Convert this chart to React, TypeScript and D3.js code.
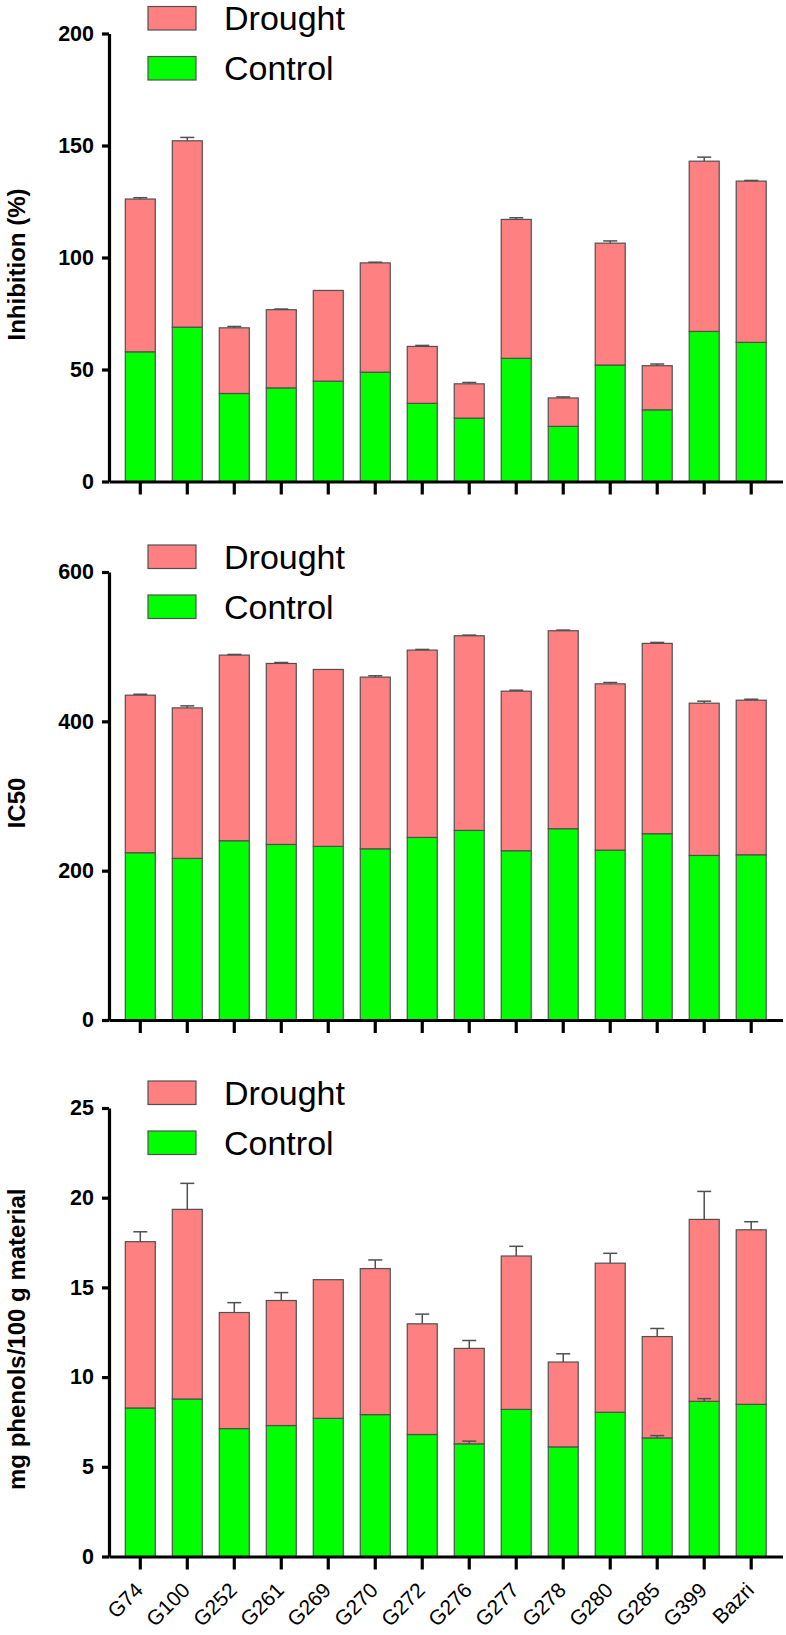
import React, { useRef, useEffect } from 'react';
import * as d3 from 'd3';

// genotypes on the x axis
const GENOTYPES = ['G74', 'G100', 'G252', 'G261', 'G269', 'G270', 'G272', 'G276', 'G277', 'G278', 'G280', 'G285', 'G399', 'Bazri'];

// Inhibition (%) — control segment, drought segment (stacked on top), error of the stack
const INHIBITION_CONTROL = [57.9, 68.9, 39.3, 41.8, 44.8, 48.8, 34.9, 28.3, 55.0, 24.6, 52.0, 32.0, 67.0, 62.1];
const INHIBITION_DROUGHT = [68.2, 83.2, 29.3, 34.9, 40.5, 48.8, 25.4, 15.3, 62.0, 12.7, 54.4, 19.7, 76.0, 72.0];
const INHIBITION_ERR = [0.6, 1.5, 0.6, 0.3, 0, 0.3, 0.45, 0.6, 0.75, 0.45, 1.0, 0.75, 1.8, 0.3];
const INHIBITION_TICKS = [0, 50, 100, 150, 200];

// IC50
const IC50_CONTROL = [224.0, 216.4, 240.1, 235.1, 232.5, 229.3, 244.5, 253.9, 226.7, 256.2, 227.5, 249.5, 220.4, 221.3];
const IC50_DROUGHT = [211.0, 201.6, 248.6, 242.4, 237.0, 229.9, 250.9, 260.7, 213.7, 265.1, 222.7, 254.9, 203.9, 207.0];
const IC50_ERR = [1.3, 2.7, 0.9, 1.3, 0, 1.8, 0.9, 0.9, 1.3, 0.9, 1.8, 1.3, 2.7, 1.3];
const IC50_TICKS = [0, 200, 400, 600];

// mg phenols / 100 g material
const PHENOL_CONTROL = [8.28, 8.78, 7.13, 7.3, 7.7, 7.91, 6.8, 6.28, 8.2, 6.11, 8.04, 6.61, 8.65, 8.48];
const PHENOL_DROUGHT = [9.27, 10.57, 6.47, 6.97, 7.73, 8.14, 6.17, 5.32, 8.55, 4.73, 8.31, 5.65, 10.14, 9.73];
const PHENOL_ERR = [0.55, 1.45, 0.55, 0.44, 0, 0.48, 0.54, 0.44, 0.54, 0.46, 0.55, 0.45, 1.56, 0.45];
const PHENOL_CONTROL_ERR = [0, 0, 0, 0, 0, 0, 0, 0.15, 0, 0, 0, 0.13, 0.15, 0];
const PHENOL_TICKS = [0, 5, 10, 15, 20, 25];

const SERIES = ['Drought', 'Control'];
const COLORS: Record<string, string> = { Drought: '#ff8080', Control: '#00ff00' };

const FONT = "'Liberation Sans', Arial, Helvetica, sans-serif";

interface Panel {
  top: number;
  bottom: number;
  ticks: number[];
  label: string;
  control: number[];
  drought: number[];
  err: number[];
  controlErr?: number[];
  showLabels: boolean;
}

const App: React.FC = () => {
  const svgRef = useRef<SVGSVGElement | null>(null);

  useEffect(() => {
    const width = 786;
    const height = 1635;
    const axisX = 109;
    const axisEnd = 782.5;

    const svg = d3.select(svgRef.current).attr('width', width).attr('height', height);
    svg.selectAll('*').remove();

    const panels: Panel[] = [
      { top: 33.5, bottom: 481.5, ticks: INHIBITION_TICKS, label: 'Inhibition (%)', control: INHIBITION_CONTROL, drought: INHIBITION_DROUGHT, err: INHIBITION_ERR, showLabels: false },
      { top: 572, bottom: 1020, ticks: IC50_TICKS, label: 'IC50', control: IC50_CONTROL, drought: IC50_DROUGHT, err: IC50_ERR, showLabels: false },
      { top: 1108, bottom: 1556.5, ticks: PHENOL_TICKS, label: 'mg phenols/100 g material', control: PHENOL_CONTROL, drought: PHENOL_DROUGHT, err: PHENOL_ERR, controlErr: PHENOL_CONTROL_ERR, showLabels: true },
    ];

    const x = d3.scaleBand<string>().domain(GENOTYPES).range([axisX, axisEnd]).paddingInner(0.362).paddingOuter(0.347);

    panels.forEach((p) => {
      const g = svg.append('g');
      const y = d3.scaleLinear().domain([0, d3.max(p.ticks) || 0]).range([p.bottom, p.top]);

      const rows = GENOTYPES.map((name, i) => ({ name, Control: p.control[i], Drought: p.drought[i] }));
      const stacked = d3.stack<any>().keys(['Control', 'Drought'])(rows);

      // bars
      stacked.forEach((layer) => {
        g.append('g')
          .selectAll('rect')
          .data(layer)
          .enter()
          .append('rect')
          .attr('x', (d) => x(d.data.name)!)
          .attr('width', x.bandwidth())
          .attr('y', (d) => y(d[1]))
          .attr('height', (d) => y(d[0]) - y(d[1]))
          .attr('fill', COLORS[layer.key])
          .attr('stroke', '#505050')
          .attr('stroke-width', 1.2);
      });

      // error bars (upward only)
      const errs: { cx: number; v: number; e: number }[] = [];
      GENOTYPES.forEach((name, i) => {
        const cx = x(name)! + x.bandwidth() / 2;
        if (p.err[i] > 0) errs.push({ cx, v: p.control[i] + p.drought[i], e: p.err[i] });
        if (p.controlErr && p.controlErr[i] > 0) errs.push({ cx, v: p.control[i], e: p.controlErr[i] });
      });
      const eg = g.append('g').attr('stroke', '#505050').attr('stroke-width', 1.5);
      errs.forEach((d) => {
        eg.append('line').attr('x1', d.cx).attr('x2', d.cx).attr('y1', y(d.v)).attr('y2', y(d.v + d.e));
        eg.append('line').attr('x1', d.cx - 7).attr('x2', d.cx + 7).attr('y1', y(d.v + d.e)).attr('y2', y(d.v + d.e));
      });

      // y axis
      const ya = g
        .append('g')
        .attr('transform', `translate(${axisX},0)`)
        .call(d3.axisLeft(y).tickValues(p.ticks).tickSize(7).tickSizeOuter(0).tickPadding(8));
      ya.select('.domain').attr('stroke', '#000').attr('stroke-width', 3.2);
      ya.selectAll('.tick line').attr('stroke', '#000').attr('stroke-width', 3.2);
      ya.selectAll('.tick text')
        .attr('fill', '#000')
        .style('font-family', FONT)
        .style('font-size', '21.5px')
        .style('font-weight', 'bold');

      // x axis
      const xa = g
        .append('g')
        .attr('transform', `translate(0,${p.bottom})`)
        .call(d3.axisBottom(x).tickSize(13).tickSizeOuter(0));
      xa.select('.domain').attr('stroke', '#000').attr('stroke-width', 3.2);
      xa.selectAll('.tick line').attr('stroke', '#000').attr('stroke-width', 3.2);
      if (p.showLabels) {
        xa.selectAll('.tick text')
          .attr('x', 0)
          .attr('y', 0)
          .attr('dy', 0)
          .attr('transform', 'translate(4,35) rotate(-45)')
          .attr('text-anchor', 'end')
          .attr('fill', '#000')
          .style('font-family', FONT)
          .style('font-size', '21px');
      } else {
        xa.selectAll('.tick text').remove();
      }

      // y axis title
      g.append('text')
        .attr('transform', `translate(25,${(p.top + p.bottom) / 2 + 7}) rotate(-90)`)
        .attr('text-anchor', 'middle')
        .style('font-family', FONT)
        .style('font-size', '24px')
        .style('font-weight', 'bold')
        .text(p.label);

      // legend
      const lg = g.append('g').attr('transform', `translate(148,${p.top - 27})`);
      SERIES.forEach((s, i) => {
        lg.append('rect')
          .attr('x', 0)
          .attr('y', i * 50)
          .attr('width', 48)
          .attr('height', 23.5)
          .attr('fill', COLORS[s])
          .attr('stroke', '#505050')
          .attr('stroke-width', 1.2);
        lg.append('text')
          .attr('x', 76)
          .attr('y', i * 50 + 23.5)
          .style('font-family', FONT)
          .style('font-size', '34px')
          .attr('fill', '#000')
          .text(s);
      });
    });
  }, []);

  return <svg ref={svgRef} style={{ position: 'absolute', left: 0, top: 0, background: '#fff' }}></svg>;
};

export default App;
